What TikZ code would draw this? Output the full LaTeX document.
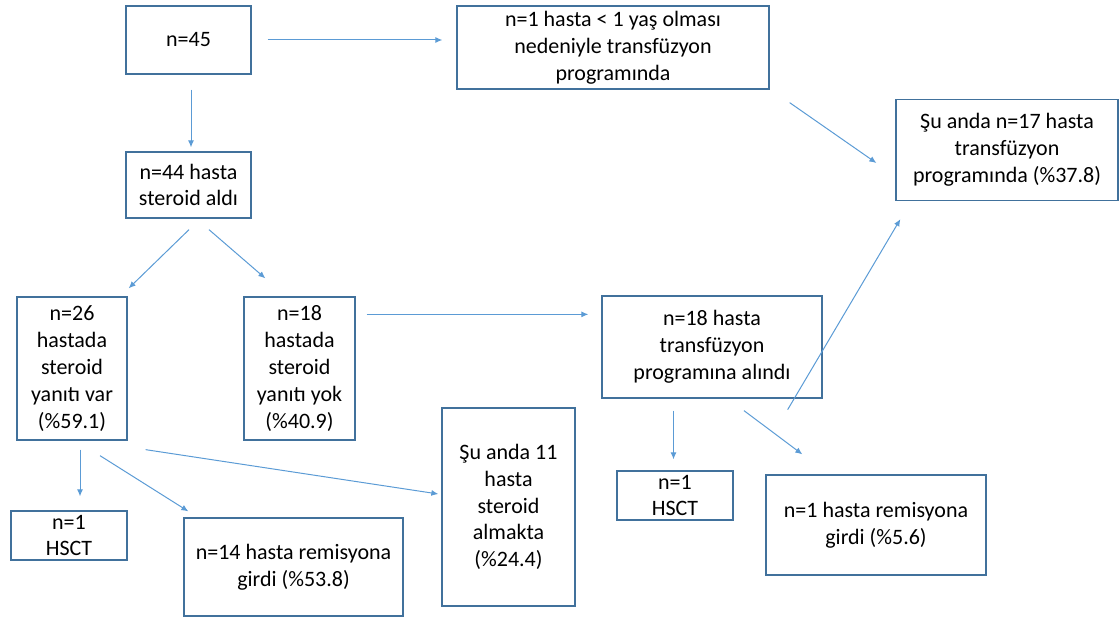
\documentclass[tikz,border=0pt]{standalone}
\usepackage{fontspec}
\setmainfont{Carlito}
\usetikzlibrary{arrows.meta,positioning}
\definecolor{boxblue}{HTML}{41719C}
\definecolor{arrowblue}{HTML}{5B9BD5}
\tikzset{
  box/.style={draw=boxblue, line width=1.3pt, align=center, inner sep=2pt,
    font=\fontsize{22}{26.8}\selectfont},
  ->/.style={-{Latex[length=7pt,width=6pt]}, draw=arrowblue, line width=1pt}
}

\begin{document}
\begin{tikzpicture}[x=1pt,y=-1pt]
\useasboundingbox (0,0) rectangle (1119,617);

% Row 1: all patients and exclusion
\node[box, minimum width=125, minimum height=68] (N45) at (188.5,40) {n=45};
\node[box, minimum width=312, minimum height=83] (Excl) at (613,47.5) {n=1 hasta < 1 yaş olması\\ nedeniyle transfüzyon\\ programında};
\node[box, minimum width=222, minimum height=101] (Now17) at (1007,150) {Şu anda n=17 hasta\\ transfüzyon\\ programında (\%37.8)};

% Row 2: steroid treatment
\node[box, minimum width=125, minimum height=66] (Ster44) at (188.5,185) {n=44 hasta\\ steroid aldı};

% Row 3: response to steroid
\node[box, minimum width=110, minimum height=143] (Resp26) at (72,368.5) {n=26\\ hastada\\ steroid\\ yanıtı var\\ (\%59.1)};
\node[box, minimum width=111, minimum height=143] (NoResp18) at (299.5,368.5) {n=18\\ hastada\\ steroid\\ yanıtı yok\\ (\%40.9)};
\node[box, minimum width=220, minimum height=102] (Trans18) at (712,347) {n=18 hasta\\ transfüzyon\\ programına alındı};
\node[box, minimum width=133, minimum height=198] (Steroid11) at (508.5,507) {Şu anda 11\\ hasta\\ steroid\\ almakta\\ (\%24.4)};

% Row 4: outcomes
\node[box, minimum width=116, minimum height=49, inner ysep=0pt] (HsctA) at (69,535.5) {n=1\\ HSCT};
\node[box, minimum width=219, minimum height=98] (Rem14) at (293.5,567) {n=14 hasta remisyona\\ girdi (\%53.8)};
\node[box, minimum width=116, minimum height=49, inner ysep=0pt] (HsctB) at (675,495.5) {n=1\\ HSCT};
\node[box, minimum width=220, minimum height=100] (Rem1) at (876,525) {n=1 hasta remisyona\\ girdi (\%5.6)};

% Arrows from the top row
\draw[->] ([shift={(16,0)}]N45.east) -- ([shift={(-14,0)}]N45.east -| Excl.west);
\draw[->] ([shift={(2.5,15)}]N45.south) -- ([shift={(2.5,-4)}]Ster44.north);
\draw[->] ([shift={(20,13)}]Excl.south east) -- ([shift={(-19,13)}]Now17.west);

% Steroid split
\draw[->] ([shift={(0.5,11)}]Ster44.south) -- ([shift={(1,-8)}]Resp26.north east);
\draw[->] ([shift={(20.5,11)}]Ster44.south) -- ([shift={(22,-18)}]NoResp18.north west);

% Non-responders to transfusion
\draw[->] ([shift={(11,18)}]NoResp18.north east) -- ([shift={(-13,19)}]Trans18.north west);
\draw[->] ([shift={(-35,11)}]Trans18.south east) -- ([shift={(5,18)}]Now17.south west);
\draw[->] ([shift={(-38.5,12)}]Trans18.south) -- ([shift={(-1.5,-11)}]HsctB.north);
\draw[->] ([shift={(32,12)}]Trans18.south) -- ([shift={(37,-20)}]Rem1.north west);

% Responders
\draw[->] ([shift={(8,9)}]Resp26.south) -- ([shift={(11,-14)}]HsctA.north);
\draw[->] ([shift={(28,15)}]Resp26.south) -- ([shift={(5,-6)}]Rem14.north west);
\draw[->] ([shift={(18,9)}]Resp26.south east) -- ([shift={(-3,-13)}]Steroid11.west);

\end{tikzpicture}
\end{document}
